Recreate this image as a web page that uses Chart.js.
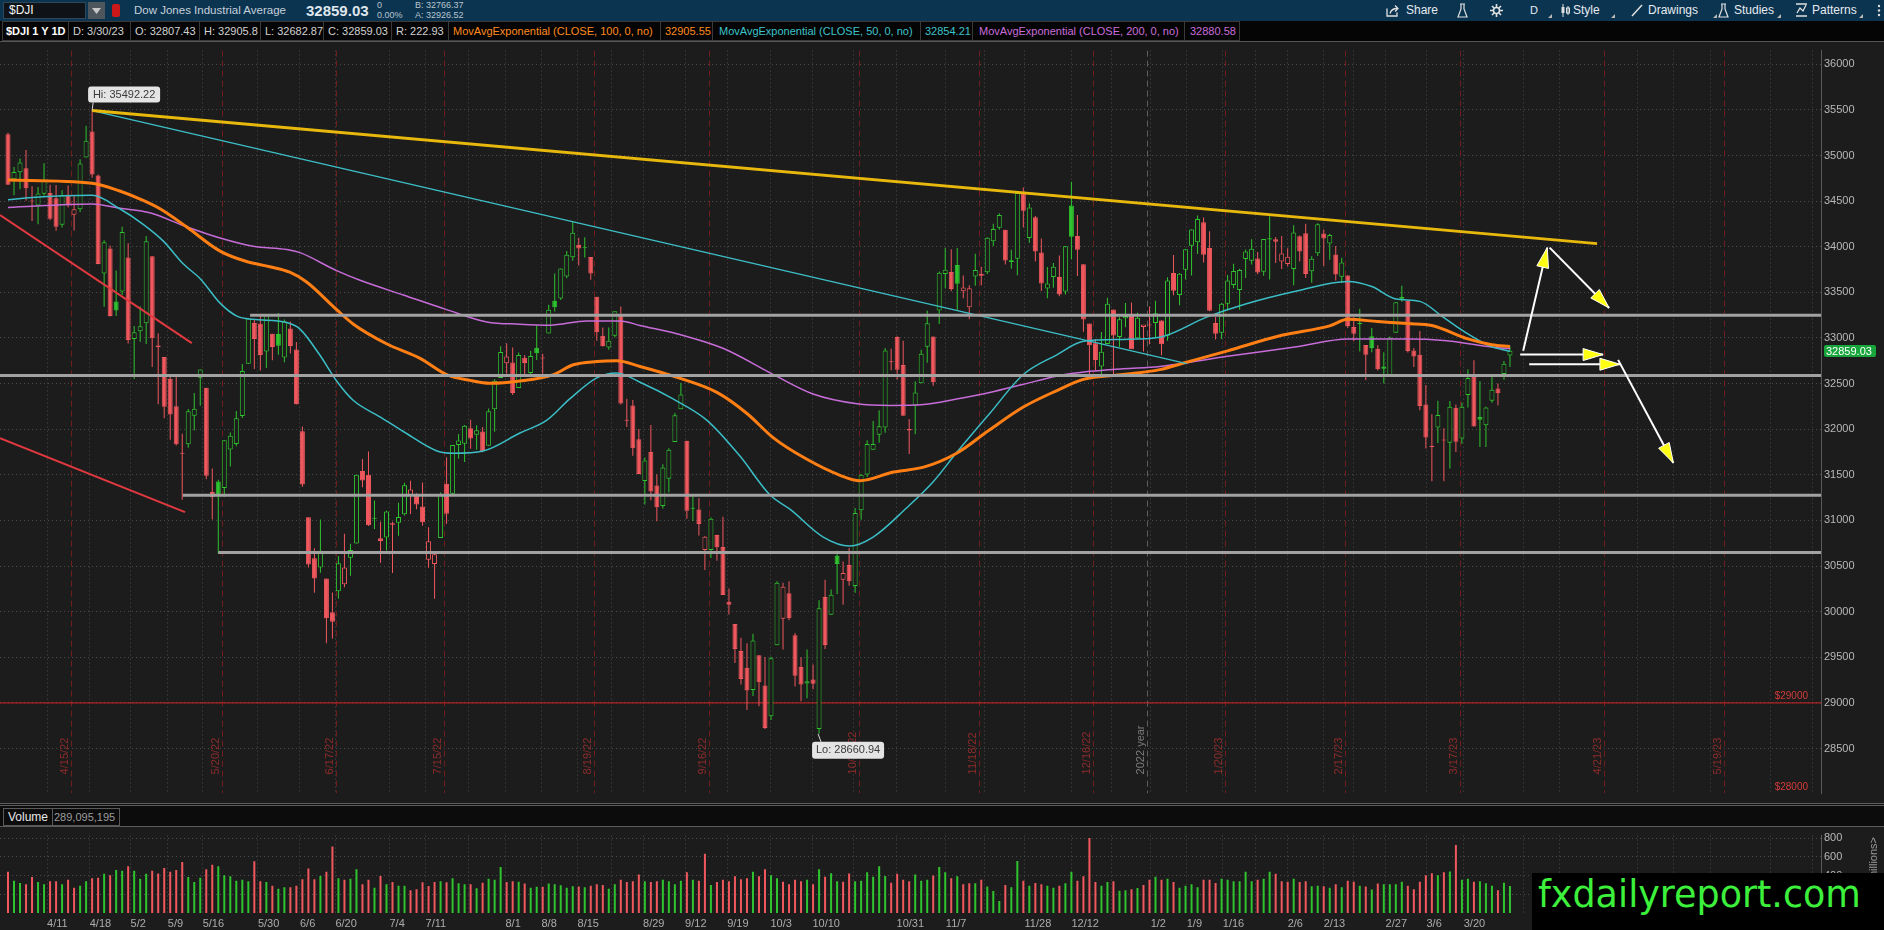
<!DOCTYPE html>
<html>
<head>
<meta charset="utf-8">
<title>$DJI 1 Y 1D</title>
<script src="https://cdn.jsdelivr.net/npm/chart.js@4.4.1/dist/chart.umd.min.js"></script>
<style>
*{box-sizing:border-box}
html,body{margin:0;padding:0;width:1884px;height:930px;overflow:hidden;background:#000;font-family:"Liberation Sans",Arial,sans-serif}
.abs{position:absolute;white-space:nowrap}
#hdr1{position:absolute;left:0;top:0;width:1884px;height:21px;background:#0b3451}
#hdr1 .tb{position:absolute;top:2px;font-size:12px;line-height:17px;color:#e6ebef}
#hdr2{position:absolute;left:0;top:21px;width:1884px;height:20px;background:#050505}
#hdr2 .c{position:absolute;top:0;font-size:11px;line-height:18px;height:20px;padding:0 0 0 4px;border:1px solid #3a3a3a;border-left:none;color:#d2d2d2;white-space:nowrap;overflow:hidden}
#pricebox{position:absolute;left:0;top:41px;width:1884px;height:762px}
#sep{position:absolute;left:0;top:803px;width:1884px;height:3px;border-top:1px solid #5c5c5c;border-bottom:1px solid #5c5c5c;background:#101010}
#volhdr{position:absolute;left:0;top:806px;width:1884px;height:20px;background:#0c0c0c}
#volbox{position:absolute;left:0;top:826px;width:1884px;height:104px}
#wm{position:absolute;left:1532px;top:873px;width:352px;height:57px;background:#000;color:#3cf03c;font-family:"DejaVu Sans",sans-serif;font-size:36.5px;line-height:44px;padding-left:6px;white-space:nowrap}
#units{position:absolute;left:1845px;top:858px;width:56px;height:14px;font-size:11px;line-height:14px;color:#9a9a9a;transform:rotate(-90deg);transform-origin:center;text-align:right}
</style>
</head>
<body>
<div id="hdr1">
  <div class="abs" style="left:3px;top:2px;width:83px;height:17px;background:#0f1317;border:1px solid #2e4759"></div>
  <div class="abs" style="left:9px;top:3px;font-size:12px;line-height:15px;color:#f2f2f2">$DJI</div>
  <div class="abs" style="left:88px;top:2px;width:17px;height:17px;background:#4d555d"></div>
  <svg class="abs" style="left:92px;top:8px" width="9" height="6"><path d="M0 0h9L4.5 6z" fill="#c8c8c8"/></svg>
  <div class="abs" style="left:112px;top:4px;width:8px;height:13px;background:#cc1818;border-radius:2px"></div>
  <div class="abs" style="left:134px;top:2px;font-size:11.5px;line-height:17px;color:#c6d0d9">Dow Jones Industrial Average</div>
  <div class="abs" style="left:306px;top:1px;font-size:15px;line-height:19px;font-weight:bold;color:#dfe6ec">32859.03</div>
  <div class="abs" style="left:377px;top:1px;font-size:9px;line-height:9.5px;color:#b9c4cd">0<br>0.00%</div>
  <div class="abs" style="left:415px;top:1px;font-size:9px;line-height:9.5px;color:#b9c4cd">B: 32766.37<br>A: 32926.52</div>

  <svg class="abs" style="left:1386px;top:4px" width="14" height="13"><path d="M1 4.5V12h10V8.5" stroke="#e0e0e0" fill="none" stroke-width="1.3"/><path d="M4 9.5C5 6 7.5 4.5 11 4.5" stroke="#e0e0e0" fill="none" stroke-width="1.3"/><path d="M9 1.5l3 3-3 3" stroke="#e0e0e0" fill="none" stroke-width="1.3"/></svg>
  <div class="tb" style="left:1406px">Share</div>
  <svg class="abs" style="left:1457px;top:3px" width="11" height="15"><path d="M3 1h5M4 1v5L1 14h9L7 6V1" stroke="#e0e0e0" fill="none" stroke-width="1.2"/></svg>
  <svg class="abs" style="left:1490px;top:4px" width="13" height="13"><circle cx="6.5" cy="6.5" r="3" stroke="#e0e0e0" fill="none" stroke-width="1.6"/><path d="M6.5 0v3M6.5 10v3M0 6.5h3M10 6.5h3M2 2l2 2M9 9l2 2M11 2L9 4M4 9L2 11" stroke="#e0e0e0" stroke-width="1.6"/></svg>
  <div class="tb" style="left:1530px;font-size:11px">D</div>
  <svg class="abs" style="left:1548px;top:14px" width="4" height="4"><path d="M4 0v4H0z" fill="#b8b8b8"/></svg>
  <svg class="abs" style="left:1560px;top:4px" width="10" height="13"><path d="M3 0v13M8 2v9" stroke="#e0e0e0"/><rect x="1.5" y="3" width="3" height="6" fill="#e0e0e0"/><rect x="6.5" y="4" width="3" height="5" fill="none" stroke="#e0e0e0"/></svg>
  <div class="tb" style="left:1573px">Style</div>
  <svg class="abs" style="left:1611px;top:14px" width="4" height="4"><path d="M4 0v4H0z" fill="#b8b8b8"/></svg>
  <svg class="abs" style="left:1631px;top:4px" width="12" height="13"><path d="M1 12L11 1" stroke="#e0e0e0" stroke-width="1.5"/></svg>
  <div class="tb" style="left:1648px">Drawings</div>
  <svg class="abs" style="left:1713px;top:14px" width="4" height="4"><path d="M4 0v4H0z" fill="#b8b8b8"/></svg>
  <svg class="abs" style="left:1718px;top:3px" width="11" height="15"><path d="M3 1h5M4 1v5L1 14h9L7 6V1" stroke="#e0e0e0" fill="none" stroke-width="1.2"/></svg>
  <div class="tb" style="left:1734px">Studies</div>
  <svg class="abs" style="left:1777px;top:14px" width="4" height="4"><path d="M4 0v4H0z" fill="#b8b8b8"/></svg>
  <svg class="abs" style="left:1795px;top:3px" width="13" height="14"><path d="M1 1h11M1 13h11" stroke="#e0e0e0" stroke-width="1.3"/><path d="M2 10l3-5 3 3 3-6" stroke="#e0e0e0" fill="none" stroke-width="1.3"/></svg>
  <div class="tb" style="left:1812px">Patterns</div>
  <svg class="abs" style="left:1859px;top:14px" width="4" height="4"><path d="M4 0v4H0z" fill="#b8b8b8"/></svg>
  <svg class="abs" style="left:1877px;top:4px" width="4" height="13"><circle cx="2" cy="2" r="1.2" fill="#ddd"/><circle cx="2" cy="6.5" r="1.2" fill="#ddd"/><circle cx="2" cy="11" r="1.2" fill="#ddd"/></svg>
</div>

<div id="hdr2">
  <div class="c" style="left:2px;width:67px;border-left:1px solid #3a3a3a;color:#fff;font-weight:bold;padding-left:3px">$DJI 1 Y 1D</div>
  <div class="c" style="left:69px;width:62px">D: 3/30/23</div>
  <div class="c" style="left:131px;width:69px">O: 32807.43</div>
  <div class="c" style="left:200px;width:61px">H: 32905.8</div>
  <div class="c" style="left:261px;width:63px">L: 32682.87</div>
  <div class="c" style="left:324px;width:68px">C: 32859.03</div>
  <div class="c" style="left:392px;width:57px">R: 222.93</div>
  <div class="c" style="left:449px;width:212px;color:#ff8a1e">MovAvgExponential (CLOSE, 100, 0, no)</div>
  <div class="c" style="left:661px;width:52px;color:#ff8a1e">32905.55</div>
  <div class="c" style="left:713px;width:208px;color:#3cc3ca;padding-left:6px">MovAvgExponential (CLOSE, 50, 0, no)</div>
  <div class="c" style="left:921px;width:52px;color:#3cc3ca">32854.21</div>
  <div class="c" style="left:973px;width:212px;color:#c96ddb;padding-left:6px">MovAvgExponential (CLOSE, 200, 0, no)</div>
  <div class="c" style="left:1185px;width:55px;color:#c96ddb;padding-left:5px">32880.58</div>
</div>

<div id="pricebox"><canvas id="price" width="1884" height="762"></canvas></div>
<div id="sep"></div>
<div id="volhdr">
  <div class="abs" style="left:3px;top:2px;height:18px;padding:0 4px;border:1px solid #5a5a5a;font-size:12px;line-height:16px;color:#e8e8e8">Volume</div>
  <div class="abs" style="left:50px;top:2px;height:18px;padding:0 4px;border:1px solid #5a5a5a;border-left:none;font-size:11px;line-height:16px;color:#9c9c9c">289,095,195</div>
</div>
<div id="volbox"><canvas id="vol" width="1884" height="104"></canvas></div>
<div id="units">&lt;millions&gt;</div>
<div id="wm">fxdailyreport.com</div>

<script>
// ---------------- DATA ----------------
// trading days 3/31/22 ... 3/30/23 → index 0 ... 250
const opens = [
35234,34740,34815,34860,34500,34452,34580,34590,34530,34240,34570,34350,34410,34978,35263,34780,33707,33981,33399,33510,33882,
32988,33074,33162,33895,32918,32791,32552,32252,31743,31834,32147,32563,32455,31311,31426,31357,31777,31839,32145,32717,33164,
33155,32853,33045,33044,32785,33105,32875,31978,31034,30585,30485,30365,29994,30225,30300,30592,30747,31543,31500,31019,30804,
30814,30953,30976,31069,31269,31274,31152,30570,30522,30809,31402,31292,31826,31840,32010,31940,31975,31820,32218,32560,
32722,32731,32451,32784,32615,32893,32774,33050,33409,33432,33675,33885,34018,33990,33888,33452,33023,32895,33023,33252,32093,32259,31891,
31432,31751,31382,31158,31456,31860,32218,31874,31129,31119,30675,30677,30841,30709,30108,29864,29568,29385,29142,29522,29192,
28855,29631,29923,30202,29743,29394,29212,29256,28713,30160,29967,30614,30351,30513,30282,31111,31504,31776,31940,32020,32744,
33011,32705,31987,32259,32504,32903,33016,33300,33701,33723,33799,33513,33337,33675,33682,33721,34060,34207,34185,33832,33868,
34584,34097,34324,33937,33543,33669,33667,33509,34451,34117,33807,33158,32943,32686,32934,33313,33012,33217,33266,32996,33121,
33149,33163,33192,33025,33712,33470,33747,34011,34050,34268,33986,33163,33057,33376,33580,33525,33865,33847,33870,33726,
34080,34082,33839,33812,33755,34114,34148,33732,33929,34145,34036,33916,33671,33684,33119,33162,32922,33020,32883,
32686,32595,33056,33448,33407,32863,32817,32270,31806,32018,31875,31852,32235,31898,32376,32575,32135,32043,32311,32445,32604,32807.43];
const highs = [
35250,34875,34966,35060,34664,34655,34915,34680,34677,34620,34670,34564,34960,35325,35492.22,34791,34070,34014,33740,34218,34038,
33132,33348,34118,33895,33053,32791,32588,32579,31951,32222,32396,32654,32455,31570,31445,31880,31963,32199,32715,33213,33208,
33255,33248,33045,33273,33203,33180,32955,32031,31034,30694,31010,30365,30211,30610,30854,30745,31501,31674,31757,31219,30987,
31105,30987,31194,31412,31436,31299,31415,30925,30665,31305,31692,31827,31947,32046,32104,32043,32023,32226,32547,32910,
32941,32895,32841,32814,32860,33139,32828,33365,33707,33761,33952,34281,34099,34105,33888,33452,33114,33115,33291,33344,32333,32321,32003,
31690,32047,31507,31616,31790,32178,32506,31874,31265,31243,30829,31033,30843,31041,30255,29864,29715,29654,29758,29523,29503,
29507,30335,30318,30335,29767,29502,29586,29420,30125,30349,30243,30669,30549,30699,31136,31508,31878,32090,32208,32889,32883,
33018,32970,32112,32527,32871,33302,33016,33728,33987,33972,33987,33685,33577,33924,33781,34104,34253,34366,34185,33968,34595,
34650,34476,34338,34091,33778,33821,33903,34008,34712,34349,33807,33158,32989,33065,33441,33313,33226,33384,33390,33277,33121,
33345,33409,33193,33666,33909,33711,33974,34192,34341,34321,34169,33230,33382,33690,33814,33760,33970,34083,33943,34086,
34334,34106,34118,33982,34236,34124,34252,33897,34257,34190,34142,34008,33879,33691,33229,33319,32922,33109,32921,
32844,33015,33391,33572,33414,32891,33076,32484,32165,32311,32011,32308,32271,32294,32655,32757,32525,32247,32588,32500,32748,32905.8];
const lows = [
34678,34565,34630,34505,34282,34247,34560,34290,34175,34210,34430,34177,34380,34978,34756,33807,33343,33236,33241,33471,32939,
32551,32958,32933,32681,32273,32121,31885,31822,31228,31796,31986,32258,31452,31010,30636,31258,31592,31813,32124,32717,32661,
32643,32670,32755,32815,32734,32830,32270,31368,30483,30207,30426,29653,29706,30142,30267,30394,30747,31364,30940,30905,30536,
30672,30425,30832,31053,31071,31123,30941,30482,30143,30809,30965,31292,31675,31642,31787,31775,31748,31820,31971,32560,
32607,32376,32451,32584,32569,32759,32597,33050,33290,33415,33655,33845,33795,33881,33637,32970,32906,32870,33004,32272,32025,31709,31507,
31176,31222,30992,31131,31305,31860,32218,31020,30993,30835,30457,30588,30558,30183,29970,29439,29201,28922,29075,28964,28715,
28813,29631,29587,29905,29180,29018,29051,29150,28660.94,29590,29967,30190,30075,30283,30207,31008,31476,31776,31852,31961,32645,
32546,32148,31727,31946,32504,32729,32476,33153,33543,33511,33306,33434,33204,33572,33578,33700,34008,34187,33806,33758,33688,
34211,34043,33838,33516,33435,33551,33458,33477,33863,33678,33068,32573,32642,32581,32934,32574,32900,33117,32881,32996,32852,
32932,33006,32812,32970,33469,33359,33642,33685,33921,33826,33294,32983,32990,33302,33544,33310,33656,33804,33699,33681,
33641,33823,33755,33785,33579,33839,33658,33604,33898,33790,33857,33631,33602,33110,32963,32853,32536,32843,32644,
32500,32584,33056,33398,32841,32682,32208,31788,31430,31848,31429,31570,31750,31840,32238,32030,31806,31806,32290,32260,32543,32682.87];
const closes = [
34678,34818,34922,34641,34497,34584,34721,34308,34220,34565,34451,34412,34911,35161,34793,33811,34049,33240,33302,34161,32977,
33062,33129,34061,32998,32899,32246,32161,31834,31730,32197,32223,32655,31490,31253,31262,31880,31929,32120,32637,33213,32990,
32813,33248,32900,32916,33180,32911,32273,31393,30517,30365,30669,29927,29889,30530,30483,30677,31501,31438,30947,31029,30775,
31097,30968,31038,31385,31338,31174,30981,30773,30630,31288,31073,31827,31875,32037,31899,31990,31762,32198,32530,32845,
32798,32396,32813,32727,32803,32833,32774,33310,33337,33761,33912,34152,33980,33999,33707,33064,32910,32969,33292,32283,32099,31791,31510,
31656,31318,31145,31581,31775,32152,32381,31105,31135,30962,30822,31020,30706,30184,30077,29590,29261,29135,29684,29226,28726,
29491,30316,30274,29927,29297,29203,29239,29211,30039,29635,30186,30524,30424,30334,31083,31500,31837,31839,32033,32862,32733,
32653,32148,32001,32403,32827,33161,32514,33715,33748,33537,33593,33554,33546,33746,33700,34098,34194,34347,33849,33853,34590,
34395,34430,33947,33596,33598,33781,33476,34005,34109,33966,33202,32920,32758,32850,33376,33027,33204,33242,32876,33221,33147,
33136,33270,32930,33631,33518,33704,33973,34190,34303,33911,33297,33045,33375,33630,33734,33744,33949,33978,33717,34086,
34093,34054,33926,33891,34157,33949,33700,33869,34246,34089,34128,33697,33827,33130,33045,33154,32817,32889,32657,
32662,33004,33391,33431,32856,32798,32255,31910,31819,32155,31875,32247,31862,32245,32561,32030,32105,32238,32432,32394,32718,32859.03];
// volume, millions of shares
const volumes = [
440,345,320,307,383,330,307,340,340,307,355,270,292,340,371,377,418,403,460,450,
498,450,365,418,450,422,479,440,460,545,383,330,377,466,514,498,403,393,345,355,
340,552,340,330,292,260,276,276,292,361,475,361,396,440,710,371,355,365,466,307,
355,270,396,307,330,292,292,244,254,327,289,330,340,327,371,317,307,307,263,323,
365,355,491,330,340,333,314,270,279,279,314,307,295,270,285,282,276,292,307,298,
260,307,355,330,340,412,340,330,340,355,340,307,345,434,355,345,631,298,330,355,
340,393,361,371,440,393,466,403,371,333,307,355,340,355,307,466,387,425,340,333,
422,340,345,434,387,498,396,323,418,355,340,412,345,355,400,
491,434,371,393,307,317,317,355,282,235,127,298,276,555,345,292,320,307,292,270,
292,317,440,345,393,800,330,292,330,340,238,244,254,266,298,355,387,355,365,330,
270,292,307,276,355,355,320,365,355,340,340,440,340,355,365,440,418,340,333,365,
330,340,285,292,285,270,307,276,345,333,292,282,250,314,307,307,307,333,292,254,
333,403,425,403,434,444,726,355,365,333,340,317,292,244,323,289];

// exponential moving averages (bar index → value)
const ema100Pos = [0,14,18.6,22,25.3,29.7,35.3,39.7,43.6,46.9,49.7,54.7,57.5,63,68.6,73,76.9,80.2,85.2,90.8,94.1,98,101.3,105.2,111.9,118,123,127.4,132.9,138.5,141.8,147.4,152.4,157.9,163.4,169,174.5,179,185.6,191.7,196,203,212,220,223,228,233,237,243,247,250];
const ema100Val = [34731,34697,34611,34522,34416,34219,33952,33838,33781,33721,33614,33311,33151,32937,32777,32599,32535,32503,32528,32599,32706,32741,32749,32688,32557,32403,32172,31905,31673,31495,31435,31531,31584,31737,31994,32243,32421,32546,32599,32653,32731,32859,33029,33132,33204,33180,33158,33137,32990,32926,32905.55];
const ema50Pos = [0,4,14,18.6,22.5,25.9,29.2,32,35.3,38.1,40.8,46.4,48.6,51.9,54.7,57.5,61.9,65.8,71.4,74.1,79.1,85.2,89.7,93.5,98,101.3,105.2,110.7,116.3,121.8,126.8,130.2,135.7,140.1,144,149.6,154,157.9,163.4,169,174.5,179,185.6,191.7,199.5,206,214.5,223,227,231,235,239,243,247,250];
const ema50Val = [34515,34540,34563,34416,34245,34059,33810,33650,33382,33240,33204,33169,33097,32813,32528,32314,32136,31975,31762,31737,31762,31958,32100,32332,32563,32616,32515,32332,32100,31708,31281,31121,30818,30719,30818,31139,31424,31744,32172,32599,32813,32963,32984,33008,33228,33372,33514,33620,33564,33428,33401,33222,33044,32902,32854.21];
const ema200Pos = [0,14,18.6,23.6,29.7,35.3,40.8,46.4,48.6,54.7,58.6,65.8,73,79.7,85.2,90.2,96.3,101.9,105.2,112.4,119.1,127.4,134,141.3,146.8,152.4,157.9,163.4,169,174.5,180.1,185.6,191.7,203,214.5,223,233,239,247,250];
const ema200Val = [34430,34468,34422,34372,34219,34095,34005,33970,33935,33738,33632,33471,33311,33176,33151,33140,33187,33187,33137,33027,32884,32599,32386,32279,32261,32271,32332,32403,32492,32581,32634,32663,32688,32799,32904,32989,32989,32973,32902,32880.58];

// x-axis tick labels (weekly grid) and their bar positions
const weekLabels = ['4/11','4/18','5/2','5/9','5/16','5/30','6/6','6/20','7/4','7/11','8/1','8/8','8/15','8/29','9/12','9/19','10/3','10/10','10/31','11/7','11/28','12/12','1/2','1/9','1/16','2/6','2/13','2/27','3/6','3/20'];
const weekPos = [6.5,13.6,20.4,26.6,32.4,41.6,48.6,54.5,63.5,69.5,82.8,88.8,94.8,105.7,112.7,119.7,126.9,133.9,147.9,156.1,169.2,177,190.2,196.2,202.2,213,219,229.3,236.1,242.3];
const extraGridPos = [76.7,100.4,140.8,162.6,183.6,207.6,224,252.2,258.2,271.3,277.3,283.3,293.3,300.3];
// monthly option-expiration markers
const opexLabels = ['4/15/22','5/20/22','6/17/22','7/15/22','8/19/22','9/16/22','10/21/22','11/18/22','12/16/22','1/20/23','2/17/23','3/17/23','4/21/23','5/19/23'];
const opexPos = [10.5,35.6,54.6,72.6,97.6,116.6,141.6,161.6,180.6,202.6,222.6,241.6,265.6,285.6];
const yearLabel = '2022 year';
const yearPos = 189.6;

// price-axis ticks and range; volume ticks
const priceTicks = [28500,29000,29500,30000,30500,31000,31500,32000,32500,33000,33500,34000,34500,35000,35500,36000];
const volTicks = [200,400,600,800];
const xRange = [-1.332, 301.77];
const priceRange = [28008.5, 36149.6];
const volRange = [0, 826];

// drawings: trend lines, support/resistance levels, price alerts, arrows
const yellowTrendX = [14, 264.5], yellowTrendY = [35492.22, 34034];
const cyanTrendX = [14, 196.2], cyanTrendY = [35492.22, 32720];
const redTrend1X = [-1.332, 30.6], redTrend1Y = [34347, 32944];
const redTrend2X = [-1.332, 29.46], redTrend2Y = [31901, 31091];
const levelValues = [33250, 32590, 31275, 30650];
const levelStarts = [40.3, -1.332, 29.1, 35];
const alertLevels = [29000, 28000];
const arrowLines = [
  [252.2, 32859, 256.2, 33990],
  [256.6, 33990, 266.5, 33329],
  [251.7, 32818, 265.5, 32818],
  [253.2, 32712, 268.3, 32712],
  [268.0, 32760, 277.2, 31630]
];

// ---------------- RENDERING ----------------
const PANE_BG = '#1c1c1c';
const UP = '#2fc42f';
const DN = '#f0585e';
const FONT = '"Liberation Sans", Arial, sans-serif';
Chart.defaults.font.family = FONT;

const N = closes.length;
const idx = closes.map((_, i) => i);
const isUp = idx.map(i => closes[i] >= (i ? closes[i - 1] : opens[i]));
const candleCol = idx.map(i => isUp[i] ? UP : DN);
const bodyFill = idx.map(i => closes[i] > opens[i] ? PANE_BG : candleCol[i]);
const gridPos = weekPos.concat(extraGridPos).sort((a, b) => a - b);

const pts = (xs, ys) => xs.map((v, k) => ({x: v, y: ys[k]}));
const lineDS = (data, color, width, order, extra) => Object.assign({
  type: 'line', data, borderColor: color, borderWidth: width, pointRadius: 0,
  fill: false, order, tension: 0
}, extra || {});

function roundRect(c, x, y, w, h, r) {
  c.beginPath();
  c.moveTo(x + r, y); c.lineTo(x + w - r, y); c.quadraticCurveTo(x + w, y, x + w, y + r);
  c.lineTo(x + w, y + h - r); c.quadraticCurveTo(x + w, y + h, x + w - r, y + h);
  c.lineTo(x + r, y + h); c.quadraticCurveTo(x, y + h, x, y + h - r);
  c.lineTo(x, y + r); c.quadraticCurveTo(x, y, x + r, y); c.closePath();
}

const priceOverlay = {
  id: 'priceOverlay',
  beforeDraw(chart) {
    const c = chart.ctx; c.save(); c.fillStyle = PANE_BG; c.fillRect(0, 0, chart.width, chart.height); c.restore();
  },
  beforeDatasetsDraw(chart) {
    const {ctx: c, chartArea: a, scales: {x}} = chart;
    c.save();
    c.beginPath(); c.rect(a.left, a.top, a.right - a.left, a.bottom - a.top); c.clip();
    c.lineWidth = 1; c.setLineDash([6, 4]);
    c.strokeStyle = '#701d1d';
    opexPos.forEach(v => {
      const X = Math.round(x.getPixelForValue(v)) + 0.5;
      c.beginPath(); c.moveTo(X, a.top); c.lineTo(X, a.bottom); c.stroke();
    });
    const YX = Math.round(x.getPixelForValue(yearPos)) + 0.5;
    c.strokeStyle = '#5e5e5e';
    c.beginPath(); c.moveTo(YX, a.top); c.lineTo(YX, a.bottom); c.stroke();
    c.setLineDash([]);
    c.font = '11px ' + FONT; c.textAlign = 'left'; c.textBaseline = 'bottom';
    opexPos.forEach((v, k) => {
      const X = Math.round(x.getPixelForValue(v));
      c.save(); c.translate(X - 1, a.bottom - 19); c.rotate(-Math.PI / 2);
      c.fillStyle = '#8e2b2b'; c.fillText(opexLabels[k], 0, 0); c.restore();
    });
    c.save(); c.translate(YX - 1, a.bottom - 19); c.rotate(-Math.PI / 2);
    c.fillStyle = '#7c7c7c'; c.fillText(yearLabel, 0, 0); c.restore();
    c.restore();
  },
  afterDatasetsDraw(chart) {
    const {ctx: c, chartArea: a, scales: {x, y}} = chart;
    c.save();
    c.beginPath(); c.rect(a.left, a.top, a.right - a.left, a.bottom - a.top + 2); c.clip();
    arrowLines.forEach(([x0, y0, x1, y1]) => {
      const X0 = x.getPixelForValue(x0), Y0 = y.getPixelForValue(y0);
      const X1 = x.getPixelForValue(x1), Y1 = y.getPixelForValue(y1);
      const ang = Math.atan2(Y1 - Y0, X1 - X0), L = 20, W = 6;
      const bx = X1 - L * Math.cos(ang), by = Y1 - L * Math.sin(ang);
      c.beginPath(); c.moveTo(X1, Y1);
      c.lineTo(bx + W * Math.sin(ang), by - W * Math.cos(ang));
      c.lineTo(bx - W * Math.sin(ang), by + W * Math.cos(ang));
      c.closePath(); c.fillStyle = '#ffff14'; c.fill();
      c.strokeStyle = '#ffffff'; c.lineWidth = 1; c.stroke();
    });
    c.font = '10px ' + FONT; c.fillStyle = '#d43b3b'; c.textAlign = 'right'; c.textBaseline = 'bottom';
    alertLevels.forEach(v => c.fillText('$' + v, a.right - 13, y.getPixelForValue(v) - 2));
    const hiV = Math.max(...highs), hiI = highs.indexOf(hiV);
    const loV = Math.min(...lows), loI = lows.indexOf(loV);
    const hx = x.getPixelForValue(hiI), hy = y.getPixelForValue(hiV);
    const lx = x.getPixelForValue(loI), ly = y.getPixelForValue(loV);
    c.strokeStyle = '#d8d8d8'; c.lineWidth = 1;
    c.beginPath(); c.moveTo(hx, hy); c.lineTo(hx + 1, hy - 8); c.stroke();
    c.beginPath(); c.moveTo(lx - 1, ly); c.lineTo(lx + 2, ly + 8); c.stroke();
    c.font = '11px ' + FONT; c.textAlign = 'center'; c.textBaseline = 'middle';
    c.fillStyle = '#e4e4e4'; roundRect(c, hx - 4, hy - 24, 72, 16, 3); c.fill();
    c.fillStyle = '#3a3a3a'; c.fillText('Hi: ' + hiV.toFixed(2), hx + 32, hy - 16);
    c.fillStyle = '#e4e4e4'; roundRect(c, lx - 7, ly + 8, 72, 17, 3); c.fill();
    c.fillStyle = '#3a3a3a'; c.fillText('Lo: ' + loV.toFixed(2), lx + 29, ly + 16.5);
    c.restore();
  },
  afterDraw(chart) {
    const {ctx: c, chartArea: a, scales: {y}} = chart;
    c.save();
    c.strokeStyle = '#565656'; c.lineWidth = 1;
    c.beginPath(); c.moveTo(0, 0.5); c.lineTo(chart.width, 0.5); c.stroke();
    const last = closes[N - 1], Y = Math.round(y.getPixelForValue(last));
    c.fillStyle = '#18a63c'; roundRect(c, a.right + 3, Y - 6, 52, 12, 2); c.fill();
    c.fillStyle = '#ffffff'; c.font = '11px ' + FONT; c.textAlign = 'left'; c.textBaseline = 'middle';
    c.fillText(last.toFixed(2), a.right + 5, Y + 0.5);
    c.restore();
  }
};

const priceDatasets = [
  { label: 'wicks', data: idx.map(i => ({x: i, y: [lows[i], highs[i]]})),
    backgroundColor: candleCol, borderWidth: 0, barThickness: 1, grouped: false, order: 20, inflateAmount: 0 },
  { label: 'bodies', data: idx.map(i => ({x: i, y: [opens[i], closes[i]]})),
    backgroundColor: bodyFill, borderColor: candleCol, borderWidth: 1, borderSkipped: false,
    barThickness: 5, grouped: false, minBarLength: 1, order: 19, inflateAmount: 0 },
  lineDS(pts(xRange, [29000, 29000]), '#d42424', 1, 21),
  lineDS(pts(ema200Pos, ema200Val), '#c66cd8', 1.5, 12, {cubicInterpolationMode: 'monotone'}),
  lineDS(pts(ema50Pos, ema50Val), '#3bbdc6', 1.5, 11, {cubicInterpolationMode: 'monotone'}),
  lineDS(pts(ema100Pos, ema100Val), '#ff7f14', 3, 10, {cubicInterpolationMode: 'monotone'}),
  lineDS(pts(cyanTrendX, cyanTrendY), '#3cbfc6', 1.3, 8),
  lineDS(pts(redTrend1X, redTrend1Y), '#e0393f', 2, 8),
  lineDS(pts(redTrend2X, redTrend2Y), '#e0393f', 2, 8),
  lineDS(pts(yellowTrendX, yellowTrendY), '#e8b90c', 3, 7)
].concat(levelValues.map((v, k) => lineDS(pts([levelStarts[k], xRange[1]], [v, v]), '#a2a2a2', 3, 6)))
 .concat(arrowLines.map(l => lineDS(pts([l[0], l[2]], [l[1], l[3]]), '#ffffff', 2, 2)));

new Chart(document.getElementById('price'), {
  type: 'bar',
  data: { datasets: priceDatasets },
  options: {
    responsive: false, animation: false, devicePixelRatio: 1,
    layout: { padding: 0 },
    plugins: { legend: { display: false }, tooltip: { enabled: false } },
    scales: {
      x: {
        type: 'linear', min: xRange[0], max: xRange[1], offset: false,
        afterFit: s => { s.height = 0; },
        afterBuildTicks: s => { s.ticks = gridPos.map(v => ({value: v})); },
        ticks: { display: false },
        grid: { color: '#4a4a4a', lineWidth: 1, drawTicks: false, offset: false },
        border: { display: false, dash: [1, 3] }
      },
      y: {
        position: 'right', min: priceRange[0], max: priceRange[1],
        afterFit: s => { s.width = 63; },
        afterBuildTicks: s => { s.ticks = priceTicks.map(v => ({value: v})); },
        ticks: { color: '#b8b8b8', font: { size: 11 }, padding: 3, callback: v => String(v) },
        grid: { color: '#4a4a4a', drawTicks: false },
        border: { display: true, color: '#5a5a5a', dash: [1, 3] }
      }
    }
  },
  plugins: [priceOverlay]
});

const volOverlay = {
  id: 'volOverlay',
  beforeDraw(chart) {
    const c = chart.ctx; c.save(); c.fillStyle = PANE_BG; c.fillRect(0, 0, chart.width, chart.height); c.restore();
  },
  afterDraw(chart) {
    const c = chart.ctx; c.save(); c.strokeStyle = '#5a5a5a'; c.lineWidth = 1;
    c.beginPath(); c.moveTo(0, 0.5); c.lineTo(chart.width, 0.5); c.stroke(); c.restore();
  }
};

new Chart(document.getElementById('vol'), {
  type: 'bar',
  data: { datasets: [{
    label: 'Volume', data: idx.map(i => ({x: i, y: volumes[i]})),
    backgroundColor: candleCol, borderWidth: 0, barThickness: 2, grouped: false, inflateAmount: 0
  }]},
  options: {
    responsive: false, animation: false, devicePixelRatio: 1,
    layout: { padding: 0 },
    plugins: { legend: { display: false }, tooltip: { enabled: false } },
    scales: {
      x: {
        type: 'linear', min: xRange[0], max: xRange[1], offset: false,
        afterFit: s => { s.height = 17; },
        afterBuildTicks: s => { s.ticks = gridPos.map(v => ({value: v})); },
        ticks: { color: '#acacac', font: { size: 11 }, padding: 4, align: 'start', autoSkip: false,
                 maxRotation: 0, minRotation: 0,
                 callback: v => { const k = weekPos.indexOf(v); return k >= 0 ? weekLabels[k] : ''; } },
        grid: { color: '#4a4a4a', drawTicks: false, offset: false },
        border: { display: false, dash: [1, 3] }
      },
      y: {
        position: 'right', min: volRange[0], max: volRange[1],
        afterFit: s => { s.width = 63; },
        afterBuildTicks: s => { s.ticks = volTicks.map(v => ({value: v})); },
        ticks: { color: '#b8b8b8', font: { size: 11 }, padding: 3 },
        grid: { color: '#4a4a4a', drawTicks: false },
        border: { display: true, color: '#5a5a5a', dash: [1, 3] }
      }
    }
  },
  plugins: [volOverlay]
});
</script>
</body>
</html>
